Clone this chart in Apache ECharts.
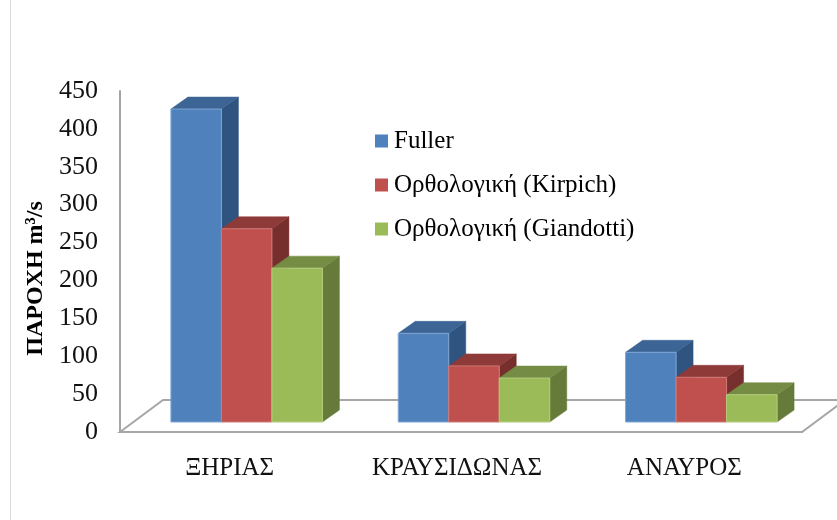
<!DOCTYPE html>
<html><head><meta charset="utf-8">
<style>html,body{margin:0;padding:0;background:#fff}#c{width:837px;height:520px}</style>
<script src="https://cdn.jsdelivr.net/npm/echarts@6/dist/echarts.min.js"></script>
</head><body><div id="c"></div>
<script>
var categories = ['ΞΗΡΙΑΣ', 'ΚΡΑΥΣΙΔΩΝΑΣ', 'ΑΝΑΥΡΟΣ'];
var fuller = [413, 117, 92];
var kirpich = [255, 74, 59];
var giandotti = [203, 58, 36];
var yTicks = [0, 450, 50];

var FONT = '"Liberation Serif","Times New Roman",serif';
var BAR_W = 50.5, DX = 17, DY = 12, LIFT = 10, SHIFT = 13;
var FLOOR_DX = 43, FLOOR_DY = 32;

function barRenderer(slot, front, top, side, edge) {
  return function (params, api) {
    var idx = api.value(0), v = api.value(1);
    var p = api.coord([idx, v]), b = api.coord([idx, 0]);
    var x0 = p[0] + SHIFT + (slot - 1.5) * BAR_W, x1 = x0 + BAR_W;
    var yt = p[1] - LIFT, yb = b[1] - LIFT;
    return { type: 'group', children: [
      { type: 'polygon', shape: { points: [[x1, yt], [x1 + DX, yt - DY], [x1 + DX, yb - DY], [x1, yb]] }, style: { fill: side, stroke: side, lineWidth: 0.5 } },
      { type: 'polygon', shape: { points: [[x0, yt], [x0 + DX, yt - DY], [x1 + DX, yt - DY], [x1, yt]] }, style: { fill: top, stroke: top, lineWidth: 0.5 } },
      { type: 'rect', shape: { x: x0, y: yt, width: BAR_W, height: yb - yt }, style: { fill: front, stroke: edge, lineWidth: 1 } }
    ] };
  };
}
function barSeries(name, values, slot, front, top, side, edge) {
  return {
    name: name, type: 'custom', clip: false, coordinateSystem: 'cartesian2d',
    itemStyle: { color: front },
    encode: { x: 0, y: 1 },
    data: values.map(function (v, i) { return [i, v]; }),
    renderItem: barRenderer(slot, front, top, side, edge)
  };
}
var floor = {
  type: 'custom', clip: false, silent: true, z: 1, encode: { x: 0, y: 1 },
  data: [[0, 0]],
  renderItem: function (params, api) {
    var o = api.coord([0, 0]), band = api.size([1, 0])[0];
    var xl = o[0] - band / 2, xr = o[0] + band * 2.5, y = o[1];
    return { type: 'polygon',
      shape: { points: [[xl, y], [xl + FLOOR_DX, y - FLOOR_DY], [xr + FLOOR_DX, y - FLOOR_DY], [xr, y]] },
      style: { fill: '#ffffff', stroke: '#a6a6a6', lineWidth: 2 } };
  }
};

var chart = echarts.init(document.getElementById('c'), null, { renderer: 'canvas' });
chart.setOption({
  animation: false,
  backgroundColor: '#ffffff',
  grid: { left: 120, top: 91, width: 682, height: 341, containLabel: false },
  graphic: [{ type: 'line', shape: { x1: 10.5, y1: 0, x2: 10.5, y2: 520 }, style: { stroke: '#d9d9d9', lineWidth: 1 } }],
  legend: {
    orient: 'vertical', left: 370, top: 121, itemWidth: 13, itemHeight: 13, itemGap: 14,
    icon: 'rect',
    data: ['Fuller', 'Ορθολογική (Kirpich)', 'Ορθολογική (Giandotti)'],
    textStyle: { fontFamily: FONT, fontSize: 25, color: '#000', padding: [0, 0, 0, 1], lineHeight: 30 }
  },
  xAxis: {
    type: 'category', data: categories,
    axisLine: { show: true, lineStyle: { color: '#a6a6a6', width: 2 } },
    axisTick: { show: false },
    axisLabel: { interval: 0, hideOverlap: false, fontFamily: FONT, fontSize: 25, color: '#111', margin: 24, padding: [0, 8, 0, 0] }
  },
  yAxis: {
    type: 'value', min: yTicks[0], max: yTicks[1], interval: yTicks[2],
    name: 'ΠΑΡΟΧΗ m³/s', nameLocation: 'middle', nameRotate: 90, nameGap: 70,
    nameTextStyle: { fontFamily: FONT, fontSize: 24, fontWeight: 'bold', color: '#000', padding: [0, 34, 0, 0] },
    axisLine: { show: true, lineStyle: { color: '#a6a6a6', width: 2 } },
    axisTick: { show: false },
    splitLine: { show: false },
    axisLabel: { fontFamily: FONT, fontSize: 26, color: '#111', margin: 22, padding: [2, 0, 0, 0] }
  },
  series: [
    floor,
    barSeries('Fuller', fuller, 0, '#4f81bd', '#3c6494', '#2f5480', '#7fa5d3'),
    barSeries('Ορθολογική (Kirpich)', kirpich, 1, '#c0504d', '#8e3a38', '#772f2d', '#cf7a77'),
    barSeries('Ορθολογική (Giandotti)', giandotti, 2, '#9bbb59', '#748c43', '#667b3a', '#b3cd7c')
  ]
});
</script></body></html>
